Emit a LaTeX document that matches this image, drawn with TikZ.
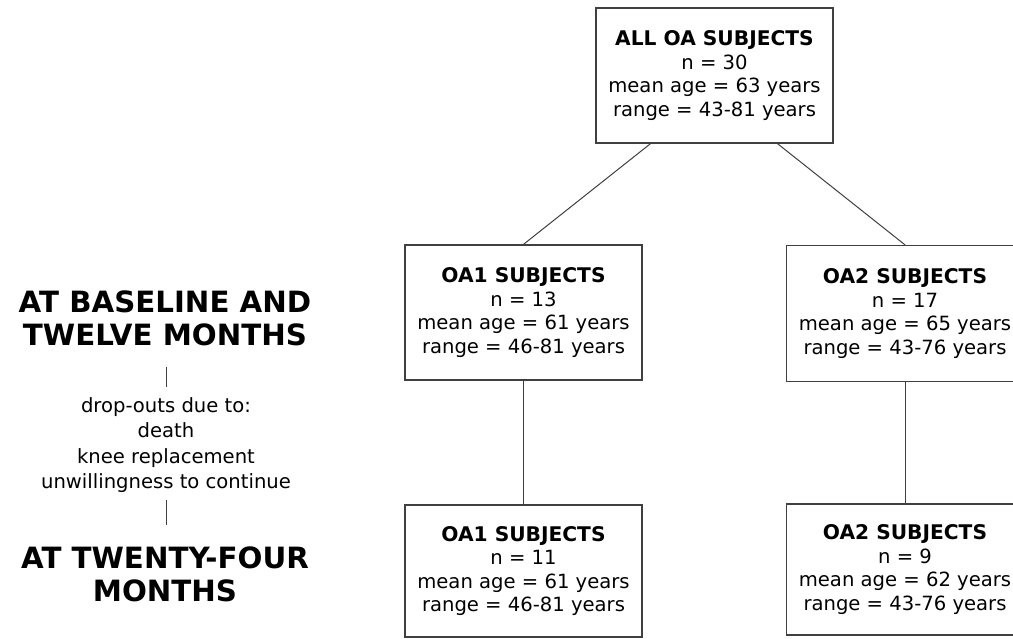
\documentclass[tikz,border=0pt]{standalone}
\usepackage{fontspec}
\setmainfont{DejaVu Sans}
\newcommand{\ttl}[1]{{\bfseries\fontsize{20.2}{23.5}\selectfont #1}}
\begin{document}
\begin{tikzpicture}[x=1pt,y=-1pt,
  box/.style={draw=black!75, line width=1.3pt, minimum width=237pt, align=center, inner sep=0pt,
    font=\fontsize{19.6}{23.5}\selectfont},
  conn/.style={draw=black!75, line width=1pt},
  bigtxt/.style={align=center, inner sep=0pt, font=\bfseries\fontsize{29.3}{33}\selectfont},
  smalltxt/.style={align=center, inner sep=0pt, font=\fontsize{19.6}{25.3}\selectfont}]
\useasboundingbox[fill=white] (0,0) rectangle (1013,639);
\clip (0,0) rectangle (1013,639);
% boxes
\node[box, minimum height=135pt] (top) at (714.5,75.5)
  {\ttl{ALL OA SUBJECTS}\\n = 30\\mean age = 63 years\\range = 43-81 years};
\node[box, minimum height=135pt] (oa1) at (523.5,312.5)
  {\ttl{OA1 SUBJECTS}\\n = 13\\mean age = 61 years\\range = 46-81 years};
\node[box, minimum height=136pt] (oa2) at (905,313.5)
  {\ttl{OA2 SUBJECTS}\\n = 17\\mean age = 65 years\\range = 43-76 years};
\node[box, minimum height=132pt] (oa1b) at (523.5,571)
  {\ttl{OA1 SUBJECTS}\\n = 11\\mean age = 61 years\\range = 46-81 years};
\node[box, minimum height=131pt] (oa2b) at (905,569.5)
  {\ttl{OA2 SUBJECTS}\\n = 9\\mean age = 62 years\\range = 43-76 years};
% connectors
\draw[conn] ([xshift=-64pt]top.south) -- (oa1.north);
\draw[conn] ([xshift=63pt]top.south) -- (oa2.north);
\draw[conn] (oa1.south) -- (oa1b.north);
\draw[conn] (oa2.south) -- (oa2b.north);
% left column
\node[bigtxt] (base) at (165,318.5) {AT BASELINE AND\\TWELVE MONTHS};
\node[smalltxt] (drop) at (166,445) {drop-outs due to:\\death\\knee replacement\\unwillingness to continue};
\node[bigtxt] (tf) at (165,574) {AT TWENTY-FOUR\\MONTHS};
\coordinate (l1a) at (166,367);
\coordinate (l1b) at (166,387);
\coordinate (l2a) at (166,500);
\coordinate (l2b) at (166,525);
\draw[conn] (l1a) -- (l1b);
\draw[conn] (l2a) -- (l2b);
\end{tikzpicture}
\end{document}
